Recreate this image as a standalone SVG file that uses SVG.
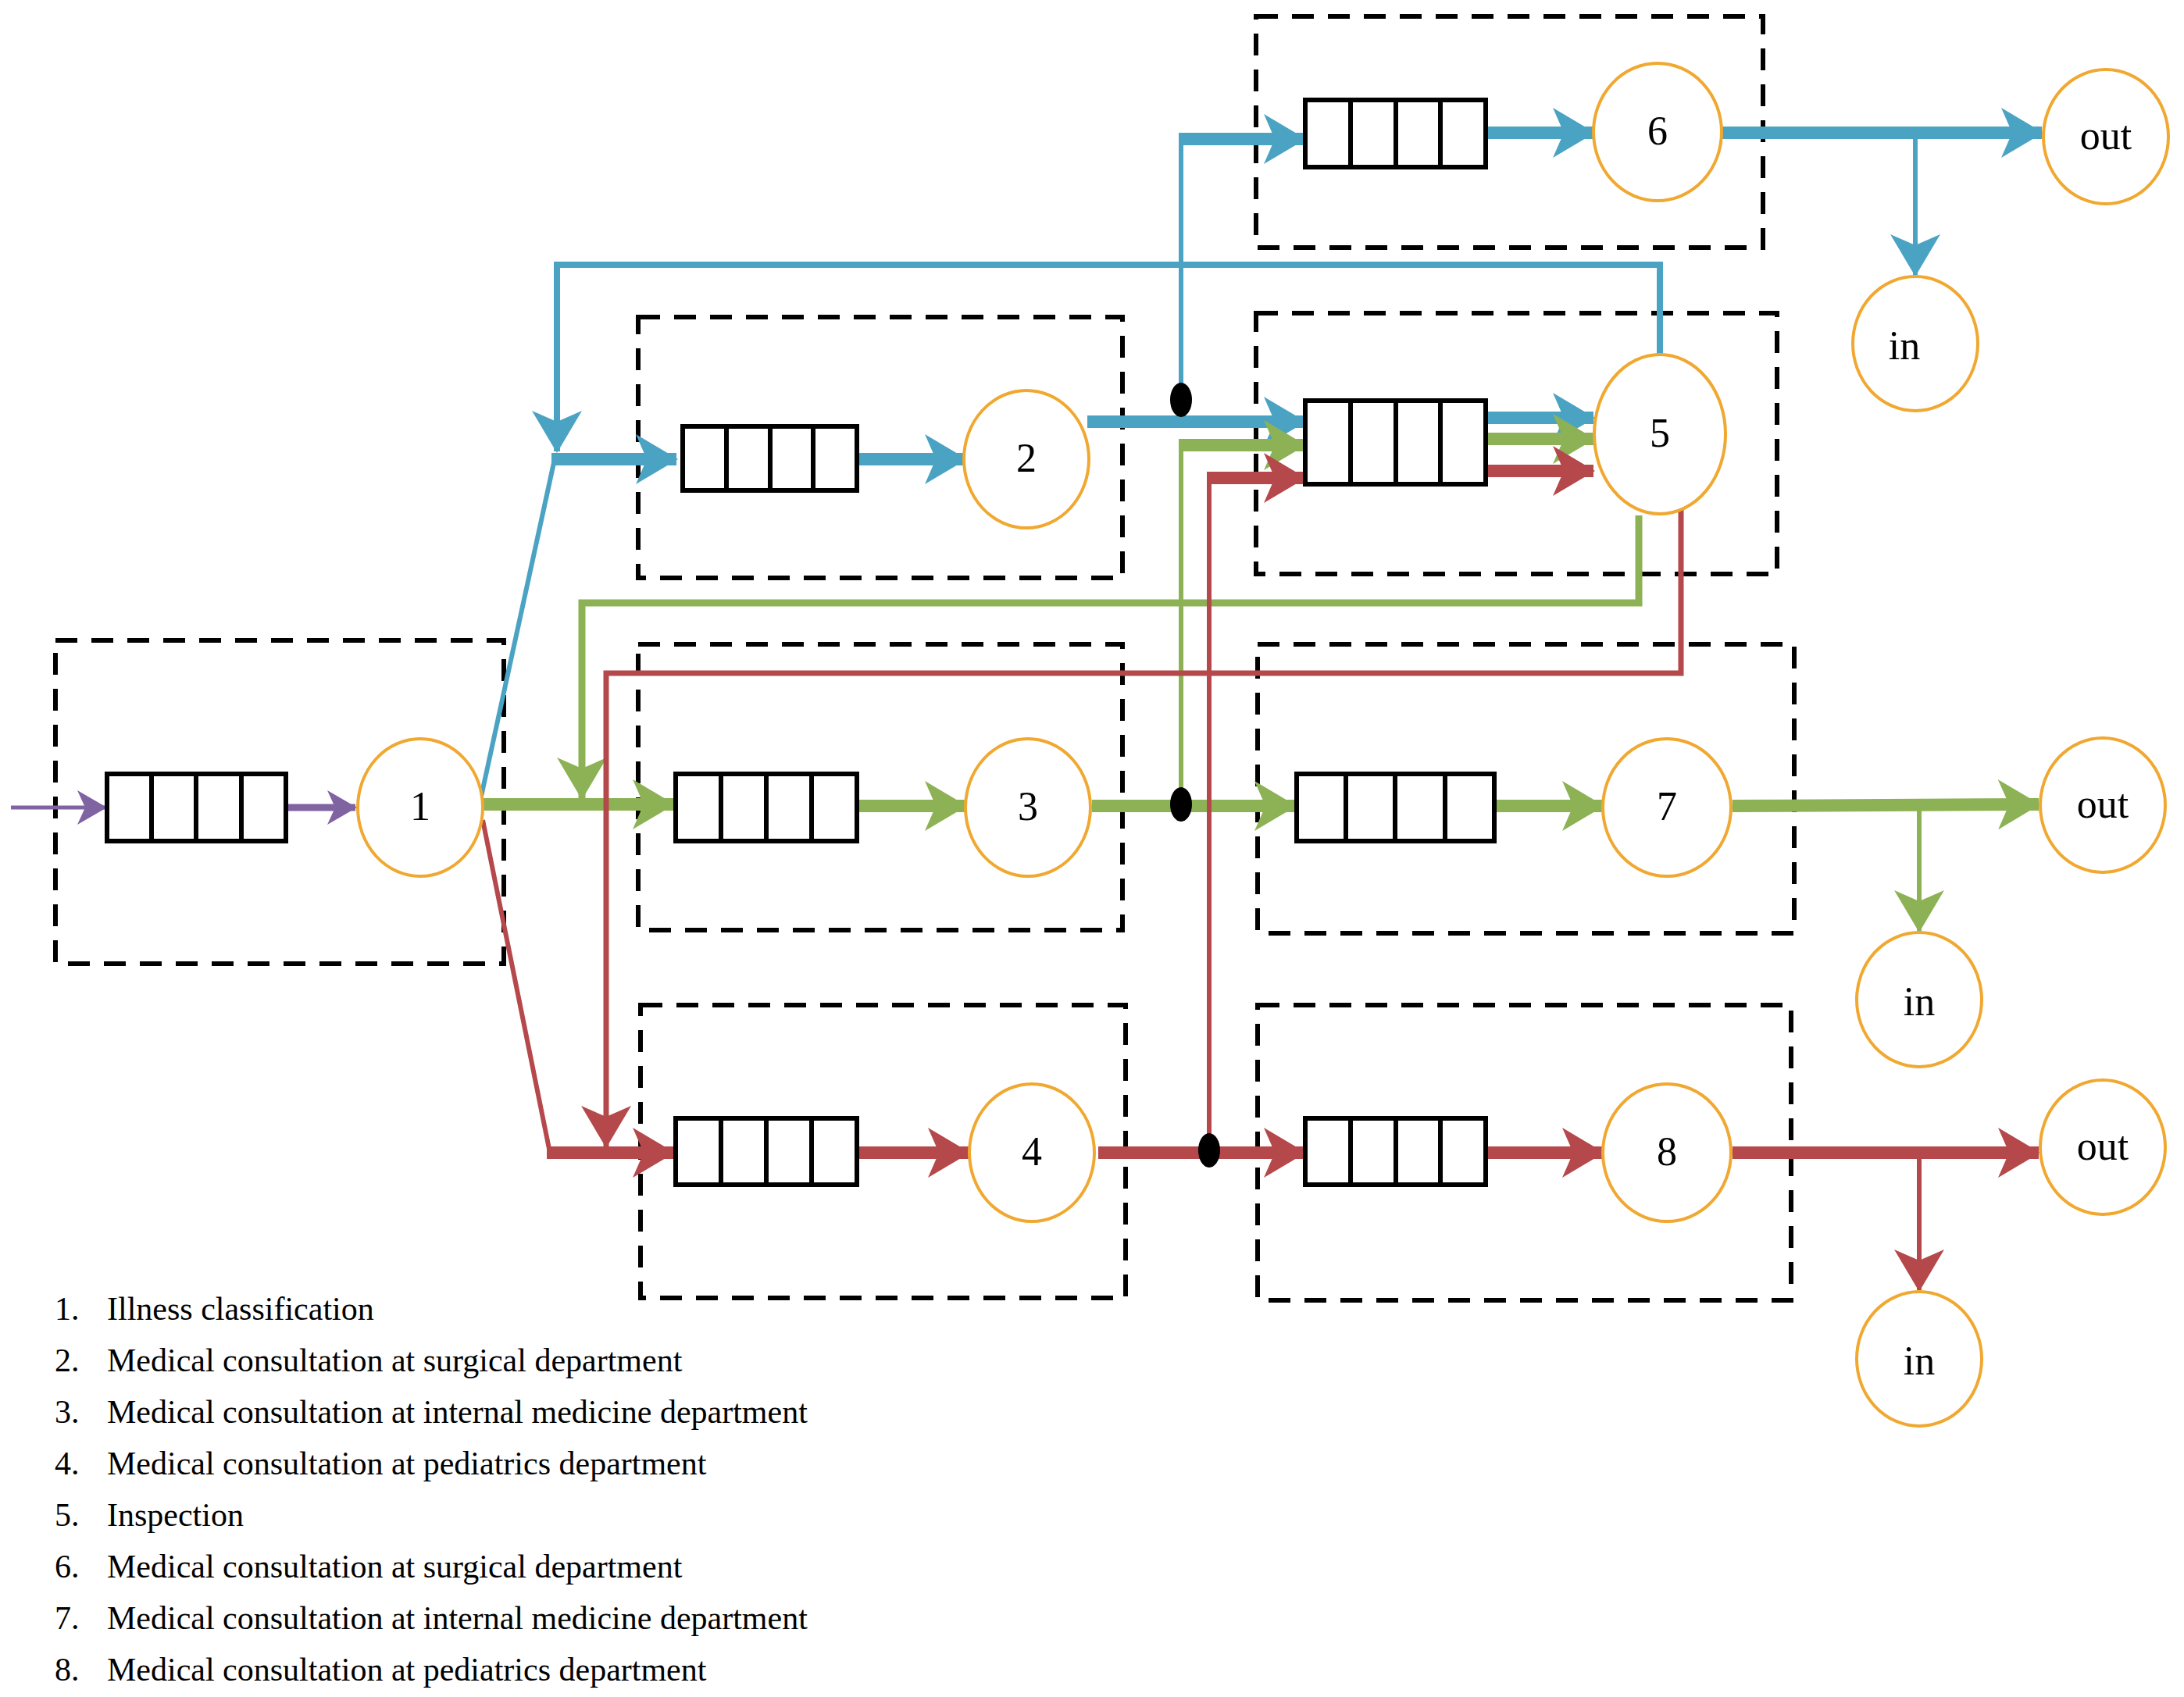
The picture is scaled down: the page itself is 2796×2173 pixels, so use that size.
<svg xmlns="http://www.w3.org/2000/svg" width="2796" height="2173" viewBox="0 0 2796 2173">
<style>
.box{fill:none;stroke:#000;stroke-width:6;stroke-dasharray:28,18}
.q{fill:#fff;stroke:#000;stroke-width:6}
.c{fill:#fff;stroke:#F0A830;stroke-width:4}
.t{font-family:"Liberation Serif",serif;font-size:52px;text-anchor:middle;fill:#000}
.lg{font-family:"Liberation Serif",serif;font-size:42px;fill:#000}
.b{stroke:#4BA3C3;fill:none}
.g{stroke:#8DB255;fill:none}
.r{stroke:#B5484B;fill:none}
.p{stroke:#8064A2;fill:none}
.k{stroke-width:16}
.n{stroke-width:6}
</style>
<defs>
<marker id="ab" markerUnits="userSpaceOnUse" markerWidth="56" markerHeight="64" refX="52" refY="32" orient="auto"><path d="M0,0 L54,32 L0,64 L14,32 z" fill="#4BA3C3"/></marker>
<marker id="ag" markerUnits="userSpaceOnUse" markerWidth="56" markerHeight="64" refX="52" refY="32" orient="auto"><path d="M0,0 L54,32 L0,64 L14,32 z" fill="#8DB255"/></marker>
<marker id="ar" markerUnits="userSpaceOnUse" markerWidth="56" markerHeight="64" refX="52" refY="32" orient="auto"><path d="M0,0 L54,32 L0,64 L14,32 z" fill="#B5484B"/></marker>
<marker id="ap" markerUnits="userSpaceOnUse" markerWidth="40" markerHeight="44" refX="36" refY="22" orient="auto"><path d="M0,0 L38,22 L0,44 L10,22 z" fill="#8064A2"/></marker>
</defs>
<g id="boxes">
<rect class="box" x="71" y="820" width="574" height="414"/>
<rect class="box" x="817" y="406" width="620" height="334"/>
<rect class="box" x="817" y="825" width="620" height="366"/>
<rect class="box" x="820" y="1287" width="621" height="375"/>
<rect class="box" x="1608" y="21" width="649" height="296"/>
<rect class="box" x="1608" y="401" width="667" height="334"/>
<rect class="box" x="1610" y="825" width="687" height="370"/>
<rect class="box" x="1610" y="1287" width="683" height="378"/>
</g>
<g id="connectors">
<line class="p" stroke-width="5" x1="14" y1="1034" x2="135" y2="1034" marker-end="url(#ap)"/>
<line class="p" stroke-width="9" x1="366" y1="1034" x2="455" y2="1034" marker-end="url(#ap)"/>
<line class="b n" x1="616" y1="1020" x2="710" y2="588"/>
<line class="b k" x1="706" y1="588" x2="866" y2="588" marker-end="url(#ab)"/>
<polyline class="b" stroke-width="8" points="2125,455 2125,339 713,339 713,578" marker-end="url(#ab)"/>
<line class="b k" x1="1097" y1="588" x2="1236" y2="588" marker-end="url(#ab)"/>
<line class="b k" x1="1392" y1="540" x2="1670" y2="540" marker-end="url(#ab)"/>
<polyline class="b n" points="1512,512 1512,178 1560,178"/>
<line class="b k" x1="1509" y1="178" x2="1670" y2="178" marker-end="url(#ab)"/>
<line class="b k" x1="1902" y1="170" x2="2040" y2="170" marker-end="url(#ab)"/>
<line class="b k" x1="2204" y1="170" x2="2614" y2="170" marker-end="url(#ab)"/>
<line class="b n" x1="2452" y1="170" x2="2452" y2="352" marker-end="url(#ab)"/>
<line class="b k" x1="1902" y1="535" x2="2040" y2="535" marker-end="url(#ab)"/>
<line class="g k" x1="618" y1="1030" x2="862" y2="1030" marker-end="url(#ag)"/>
<polyline class="g" stroke-width="9" points="2098,660 2098,772 745,772 745,1022" marker-end="url(#ag)"/>
<line class="g k" x1="1097" y1="1032" x2="1236" y2="1032" marker-end="url(#ag)"/>
<line class="g k" x1="1398" y1="1032" x2="1658" y2="1032" marker-end="url(#ag)"/>
<polyline class="g n" points="1512,1030 1512,570 1560,570"/>
<line class="g k" x1="1509" y1="570" x2="1670" y2="570" marker-end="url(#ag)"/>
<line class="g k" x1="1902" y1="562" x2="2040" y2="562" marker-end="url(#ag)"/>
<line class="g k" x1="1913" y1="1032" x2="2052" y2="1032" marker-end="url(#ag)"/>
<line class="g k" x1="2218" y1="1032" x2="2610" y2="1030" marker-end="url(#ag)"/>
<line class="g n" x1="2457" y1="1030" x2="2457" y2="1192" marker-end="url(#ag)"/>
<line class="r n" x1="618" y1="1050" x2="704" y2="1476"/>
<line class="r k" x1="700" y1="1476" x2="862" y2="1476" marker-end="url(#ar)"/>
<polyline class="r" stroke-width="7" points="2152,650 2152,862 776,862 776,1468" marker-end="url(#ar)"/>
<line class="r k" x1="1097" y1="1476" x2="1240" y2="1476" marker-end="url(#ar)"/>
<line class="r k" x1="1406" y1="1476" x2="1670" y2="1476" marker-end="url(#ar)"/>
<polyline class="r n" points="1548,1473 1548,612 1560,612"/>
<line class="r k" x1="1545" y1="612" x2="1670" y2="612" marker-end="url(#ar)"/>
<line class="r k" x1="1902" y1="603" x2="2040" y2="603" marker-end="url(#ar)"/>
<line class="r k" x1="1902" y1="1476" x2="2052" y2="1476" marker-end="url(#ar)"/>
<line class="r k" x1="2218" y1="1476" x2="2610" y2="1476" marker-end="url(#ar)"/>
<line class="r n" x1="2457" y1="1476" x2="2457" y2="1652" marker-end="url(#ar)"/>
<ellipse cx="1512" cy="512" rx="14" ry="22" fill="#000"/>
<ellipse cx="1512" cy="1030" rx="14" ry="22" fill="#000"/>
<ellipse cx="1548" cy="1473" rx="14" ry="22" fill="#000"/>
</g>
<g id="queues">
<g id="q1"><rect class="q" x="137" y="991" width="229" height="86"/><path class="q" d="M194,991V1077M251,991V1077M309,991V1077"/></g>
<g id="q2"><rect class="q" x="874" y="546" width="223" height="82"/><path class="q" d="M930,546V628M986,546V628M1041,546V628"/></g>
<g id="q3"><rect class="q" x="865" y="991" width="232" height="86"/><path class="q" d="M923,991V1077M981,991V1077M1039,991V1077"/></g>
<g id="q4"><rect class="q" x="865" y="1432" width="232" height="85"/><path class="q" d="M923,1432V1517M981,1432V1517M1039,1432V1517"/></g>
<g id="q6"><rect class="q" x="1671" y="128" width="231" height="86"/><path class="q" d="M1729,128V214M1787,128V214M1844,128V214"/></g>
<g id="q5"><rect class="q" x="1671" y="513" width="231" height="107"/><path class="q" d="M1729,513V620M1787,513V620M1844,513V620"/></g>
<g id="q7"><rect class="q" x="1660" y="991" width="253" height="86"/><path class="q" d="M1723,991V1077M1786,991V1077M1850,991V1077"/></g>
<g id="q8"><rect class="q" x="1671" y="1432" width="231" height="85"/><path class="q" d="M1729,1432V1517M1787,1432V1517M1844,1432V1517"/></g>
</g>
<g id="n1"><ellipse class="c" cx="538" cy="1034" rx="80" ry="88"/><text class="t" x="538" y="1050">1</text></g>
<g id="n2"><ellipse class="c" cx="1314" cy="588" rx="80" ry="88"/><text class="t" x="1314" y="604">2</text></g>
<g id="n3"><ellipse class="c" cx="1316" cy="1034" rx="80" ry="88"/><text class="t" x="1316" y="1050">3</text></g>
<g id="n4"><ellipse class="c" cx="1321" cy="1476" rx="80" ry="88"/><text class="t" x="1321" y="1492">4</text></g>
<g id="n5"><ellipse class="c" cx="2125" cy="556" rx="84" ry="102"/><text class="t" x="2125" y="572">5</text></g>
<g id="n6"><ellipse class="c" cx="2122" cy="169" rx="82" ry="88"/><text class="t" x="2122" y="185">6</text></g>
<g id="n7"><ellipse class="c" cx="2134" cy="1034" rx="82" ry="88"/><text class="t" x="2134" y="1050">7</text></g>
<g id="n8"><ellipse class="c" cx="2134" cy="1476" rx="82" ry="88"/><text class="t" x="2134" y="1492">8</text></g>
<g id="out1"><ellipse class="c" cx="2696" cy="175" rx="80" ry="86"/><text class="t" x="2696" y="191">out</text></g>
<g id="out2"><ellipse class="c" cx="2692" cy="1031" rx="80" ry="86"/><text class="t" x="2692" y="1047">out</text></g>
<g id="out3"><ellipse class="c" cx="2692" cy="1469" rx="80" ry="86"/><text class="t" x="2692" y="1485">out</text></g>
<g id="in1"><ellipse class="c" cx="2452" cy="440" rx="80" ry="86"/><text class="t" x="2438" y="460">in</text></g>
<g id="in2"><ellipse class="c" cx="2457" cy="1280" rx="80" ry="86"/><text class="t" x="2457" y="1300">in</text></g>
<g id="in3"><ellipse class="c" cx="2457" cy="1740" rx="80" ry="86"/><text class="t" x="2457" y="1760">in</text></g>
<g id="legend" class="lg">
<text x="70" y="1690">1.</text><text x="137" y="1690">Illness classification</text>
<text x="70" y="1756">2.</text><text x="137" y="1756">Medical consultation at surgical department</text>
<text x="70" y="1822">3.</text><text x="137" y="1822">Medical consultation at internal medicine department</text>
<text x="70" y="1888">4.</text><text x="137" y="1888">Medical consultation at pediatrics department</text>
<text x="70" y="1954">5.</text><text x="137" y="1954">Inspection</text>
<text x="70" y="2020">6.</text><text x="137" y="2020">Medical consultation at surgical department</text>
<text x="70" y="2086">7.</text><text x="137" y="2086">Medical consultation at internal medicine department</text>
<text x="70" y="2152">8.</text><text x="137" y="2152">Medical consultation at pediatrics department</text>
</g>
</svg>
